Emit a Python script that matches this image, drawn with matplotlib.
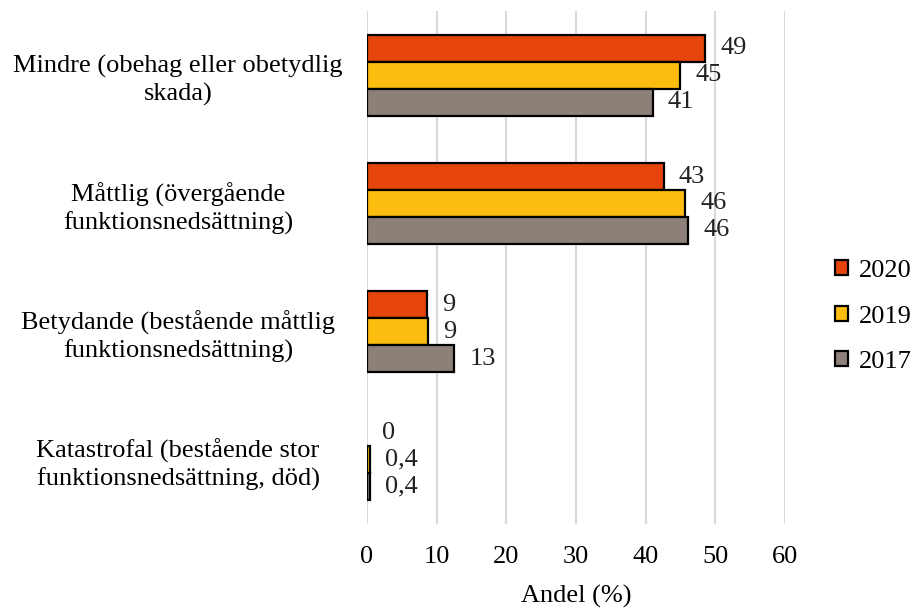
import matplotlib
matplotlib.use("Agg")
import matplotlib.pyplot as plt
import numpy as np

plt.rcParams["font.family"] = ["Liberation Serif", "DejaVu Serif"]

categories = [
    "Mindre (obehag eller obetydlig\nskada)",
    "Måttlig (övergående\nfunktionsnedsättning)",
    "Betydande (bestående måttlig\nfunktionsnedsättning)",
    "Katastrofal (bestående stor\nfunktionsnedsättning, död)",
]
series_names = ["2020", "2019", "2017"]
values_2020 = [48.6, 42.6, 8.6, 0.0]
values_2019 = [45.0, 45.7, 8.8, 0.4]
values_2017 = [41.0, 46.1, 12.5, 0.4]
labels_2020 = ["49", "43", "9", "0"]
labels_2019 = ["45", "46", "9", "0,4"]
labels_2017 = ["41", "46", "13", "0,4"]
x_ticks = [0, 10, 20, 30, 40, 50, 60]

colors = ["#E5450A", "#FDBD10", "#8D8078"]
fs = 19

fig = plt.figure(figsize=(9.15, 6.09), dpi=100)
ax = fig.add_axes([0.401, 0.1396, 0.4568, 0.842])

y = np.arange(len(categories))
bar_h = 0.21
all_vals = [values_2020, values_2019, values_2017]
all_labels = [labels_2020, labels_2019, labels_2017]
handles = []
for i, (vals, labs) in enumerate(zip(all_vals, all_labels)):
    bars = ax.barh(y + (i - 1) * bar_h, vals, height=bar_h, color=colors[i],
                   edgecolor="black", linewidth=1.6, zorder=3, label=series_names[i])
    for p, v in zip(bars.patches, vals):
        if v == 0:
            p.set_linewidth(0)
    ax.bar_label(bars, labels=labs, padding=11, fontsize=fs, color="#222222")
    handles.append(bars)

ax.set_xlim(0, 60)
ax.set_ylim(3.5, -0.5)
ax.set_xticks(x_ticks)
ax.set_xticklabels([str(t) for t in x_ticks], fontsize=fs)
ax.set_yticks(y)
ax.set_yticklabels(categories, fontsize=fs, ha="center", multialignment="center",
                   linespacing=1.25)
ax.tick_params(axis="y", length=0, pad=136)
ax.tick_params(axis="x", length=0, pad=16)
ax.grid(axis="x", color="#D9D9D9", linewidth=1.5, zorder=0)
for s in ax.spines.values():
    s.set_visible(False)
ax.set_xlabel("Andel (%)", fontsize=fs, labelpad=12)

leg = fig.legend(handles=handles, loc="upper left", bbox_to_anchor=(0.907, 0.582),
                 frameon=False, fontsize=fs, handlelength=0.5, handleheight=0.5,
                 handletextpad=0.4, labelspacing=0.9, borderaxespad=0, borderpad=0.2)

fig.savefig("out.png", dpi=100, facecolor="white")
